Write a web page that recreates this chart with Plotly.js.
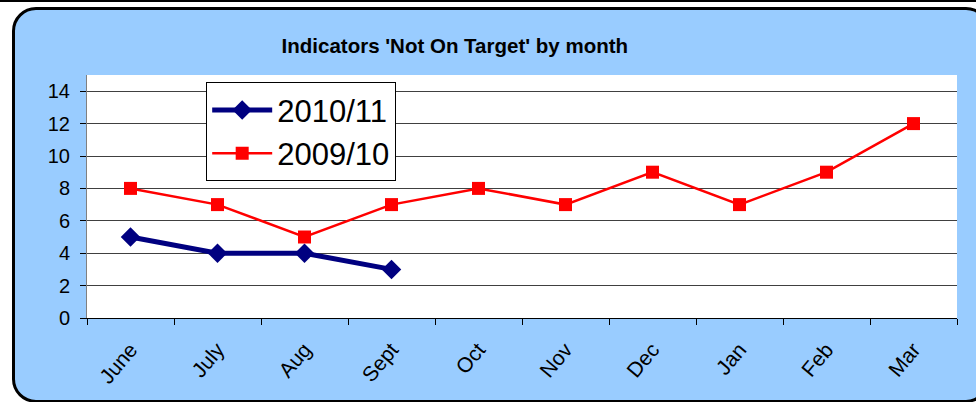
<!DOCTYPE html>
<html><head><meta charset="utf-8">
<script src="https://cdn.plot.ly/plotly-3.0.1.min.js"></script>
<style>
html,body{margin:0;padding:0;background:#fff;width:976px;height:402px;overflow:hidden;}
#topline{position:absolute;left:0;top:0;width:976px;height:2px;background:#000;}
#box{position:absolute;left:12px;top:7px;width:972px;height:390px;border:3px solid #000;border-radius:24px;background:#99CCFF;box-sizing:content-box;}
#chart{position:absolute;left:0;top:0;width:976px;height:402px;}
</style></head>
<body>
<div id="topline"></div>
<div id="box"></div>
<div id="chart"></div>
<script>
const months = ["June","July","Aug","Sept","Oct","Nov","Dec","Jan","Feb","Mar"];
const months1011 = ["June","July","Aug","Sept"];
const values1011 = [5,4,4,3];
const values0910 = [8,7,5,7,8,7,9,7,9,12];
const yTicks = [0,2,4,6,8,10,12,14];
const font = "Liberation Sans, Arial, sans-serif";

const traces = [
  {x: months1011, y: values1011, name: "2010/11", type: "scatter", mode: "lines+markers",
   line: {color: "#000080", width: 5}, marker: {symbol: "diamond", size: 15, color: "#000080"}},
  {x: months, y: values0910, name: "2009/10", type: "scatter", mode: "lines+markers",
   line: {color: "#FF0000", width: 2.5}, marker: {symbol: "square", size: 13, color: "#FF0000"}}
];

const layout = {
  width: 976, height: 402,
  margin: {l: 87, r: 19, t: 75, b: 84},
  paper_bgcolor: "rgba(0,0,0,0)",
  plot_bgcolor: "#FFFFFF",
  font: {family: font, color: "#000"},
  title: {text: "<b>Indicators 'Not On Target' by month</b>", font: {family: font, size: 20.5, color: "#000"},
          x: 0.466, xref: "container", xanchor: "center", y: 0.886, yref: "container", yanchor: "middle"},
  xaxis: {type: "category", categoryorder: "array", categoryarray: months, range: [-0.5, 9.5],
          tickson: "boundaries", ticks: "outside", ticklen: 6, tickcolor: "#000", tickwidth: 1,
          showline: true, linecolor: "#000", linewidth: 1, showgrid: false, zeroline: false,
          tickangle: -50, tickfont: {size: 21}, ticklabelstandoff: 10},
  yaxis: {range: [0, 15], tickvals: yTicks, ticks: "outside", ticklen: 6, tickcolor: "#000",
          showline: true, linecolor: "#808080", linewidth: 1, ticklabelstandoff: 6,
          showgrid: true, gridcolor: "#404040", gridwidth: 1, zeroline: false, tickfont: {size: 20}},
  showlegend: true,
  legend: {x: 0.137, y: 0.97, xanchor: "left", yanchor: "top", bgcolor: "#FFFFFF",
           bordercolor: "#000", borderwidth: 1, font: {size: 31}, tracegroupgap: 0, itemwidth: 60}
};

Plotly.newPlot("chart", traces, layout, {displayModeBar: false, staticPlot: true});
</script>
</body></html>
